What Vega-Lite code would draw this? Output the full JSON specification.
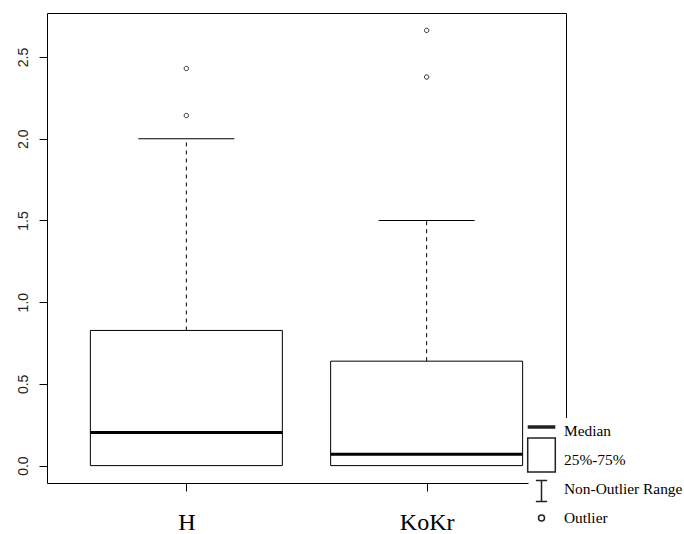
{
  "$schema": "https://vega.github.io/schema/vega-lite/v6.json",
  "width": 519,
  "height": 470,
  "autosize": {"type": "none"},
  "padding": {"left": 47, "top": 13, "right": 118, "bottom": 51},
  "background": "white",
  "config": {
    "view": {"stroke": "black", "strokeWidth": 1},
    "axis": {"grid": false, "domain": false, "tickColor": "black", "tickSize": 8, "tickWidth": 1}
  },
  "datasets": {
    "stats": [
      {"group": "H", "min": 0, "q1": 0, "median": 0.203, "q3": 0.827, "max": 2.0},
      {"group": "KoKr", "min": 0, "q1": 0, "median": 0.069, "q3": 0.639, "max": 1.5}
    ],
    "outliers": [
      {"group": "H", "value": 2.43, "kind": "Outlier"},
      {"group": "H", "value": 2.142, "kind": "Outlier"},
      {"group": "KoKr", "value": 2.663, "kind": "Outlier"},
      {"group": "KoKr", "value": 2.378, "kind": "Outlier"}
    ]
  },
  "encoding": {
    "x": {
      "field": "group",
      "type": "nominal",
      "scale": {"type": "point", "domain": ["H", "KoKr"], "padding": 0.58},
      "axis": {
        "title": null,
        "labelAngle": 0,
        "labelFont": "Liberation Serif",
        "labelFontSize": 24,
        "labelColor": "black",
        "labelPadding": 19,
        "labelBaseline": "top"
      }
    }
  },
  "layer": [
    {
      "data": {"name": "stats"},
      "mark": {"type": "rule", "strokeDash": [4, 4], "color": "black", "strokeWidth": 1},
      "encoding": {
        "y": {
          "field": "q3",
          "type": "quantitative",
          "scale": {"domain": [-0.1065, 2.7695], "nice": false, "zero": false},
          "axis": {
            "title": null,
            "values": [0, 0.5, 1, 1.5, 2, 2.5],
            "format": ".1f",
            "labelAngle": -90,
            "labelAlign": "center",
            "labelBaseline": "bottom",
            "labelFont": "Liberation Sans",
            "labelFontSize": 14,
            "labelPadding": 9,
            "labelColor": "#222"
          }
        },
        "y2": {"field": "max"}
      }
    },
    {
      "data": {"name": "stats"},
      "mark": {"type": "tick", "size": 96, "thickness": 1, "color": "black", "opacity": 1},
      "encoding": {"y": {"field": "max", "type": "quantitative"}}
    },
    {
      "data": {"name": "stats"},
      "mark": {"type": "bar", "size": 192, "fill": "white", "stroke": "black", "strokeWidth": 1, "opacity": 1},
      "encoding": {
        "y": {"field": "q1", "type": "quantitative"},
        "y2": {"field": "q3"}
      }
    },
    {
      "data": {"name": "stats"},
      "mark": {"type": "tick", "size": 192, "thickness": 3, "color": "black", "opacity": 1},
      "encoding": {"y": {"field": "median", "type": "quantitative"}}
    },
    {
      "data": {"name": "outliers"},
      "mark": {"type": "point", "filled": false, "color": "#222", "size": 310, "strokeWidth": 1, "opacity": 1},
      "encoding": {
        "y": {"field": "value", "type": "quantitative"},
        "shape": {
          "field": "kind",
          "type": "nominal",
          "scale": {
            "domain": ["Median", "25%-75%", "Non-Outlier Range", "Outlier"],
            "range": [
              "M-1.65,-1.867M-1.65,1.05M-1.15,-0.408H1.15M-1.15,-0.325H1.15M-1.15,-0.242H1.15",
              "M-1.65,-1.867M-1.65,1.05M-1.15,-1.825H1.15V1.008H-1.15Z",
              "M-1.65,-1.867M-1.65,1.05M-0.47,-0.717H0.47M0,-0.717V1.04M-0.47,1.04H0.47",
              "M-1.65,-1.867M-1.65,1.05M-0.25,0A0.25,0.25,0,1,0,0.25,0A0.25,0.25,0,1,0,-0.25,0Z"
            ]
          },
          "legend": {
            "title": null,
            "orient": "none",
            "legendX": 481.5,
            "legendY": 405,
            "fillColor": "white",
            "padding": 0,
            "symbolSize": 576,
            "symbolStrokeColor": "#222",
            "symbolOpacity": 1,
            "rowPadding": -24,
            "labelOffset": 9.5,
            "labelFont": "Liberation Serif",
            "labelFontSize": 15.4,
            "labelColor": "black"
          }
        }
      }
    }
  ]
}
